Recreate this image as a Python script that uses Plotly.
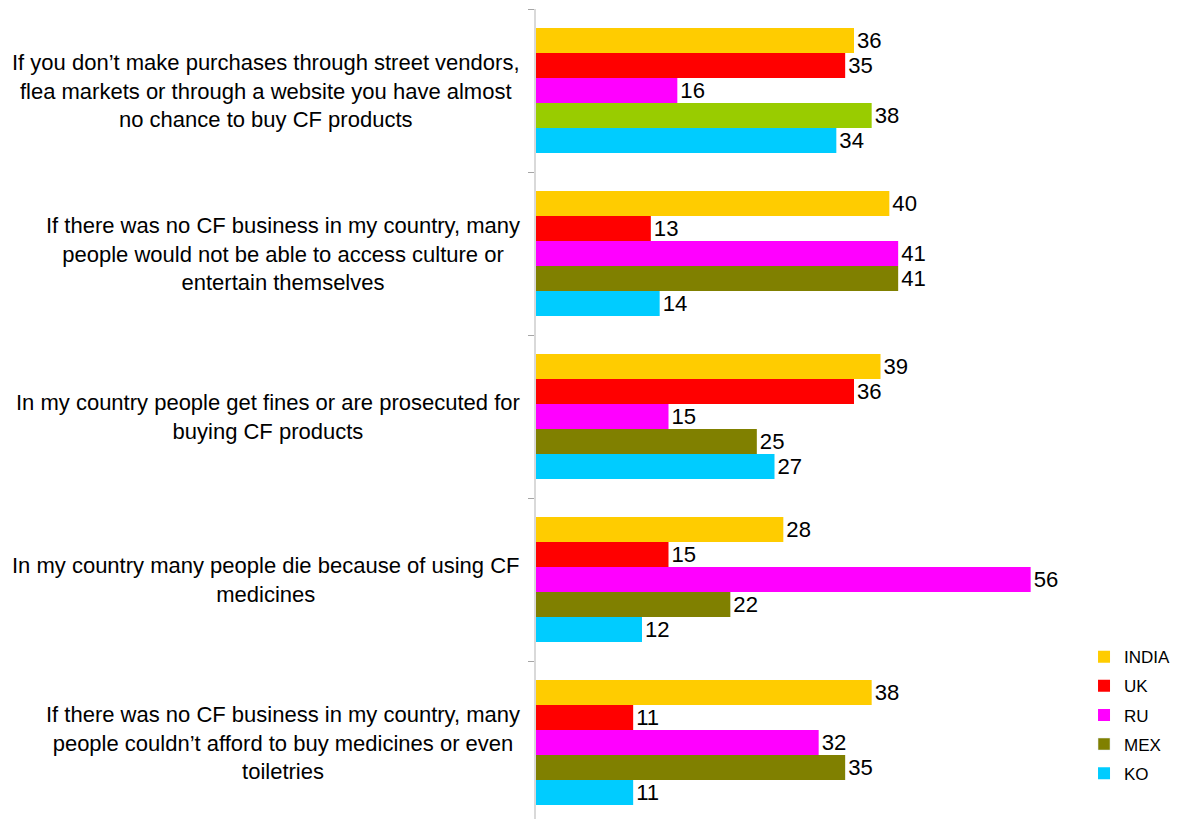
import plotly.graph_objects as go

# Statements (line breaks as printed on the chart)
statements = [
    "If you don’t make purchases through street vendors,<br>flea markets or through a website you have almost<br>no chance to buy CF products",
    "If there was no CF business in my country, many<br>people would not be able to access culture or<br>entertain themselves",
    "In my country people get fines or are prosecuted for<br>buying CF products",
    "In my country many people die because of using CF<br>medicines",
    "If there was no CF business in my country, many<br>people couldn’t afford to buy medicines or even<br>toiletries",
]
cat_ids = ["s1", "s2", "s3", "s4", "s5"]

countries = ["INDIA", "UK", "RU", "MEX", "KO"]
india = [36, 40, 39, 28, 38]
uk = [35, 13, 36, 15, 11]
ru = [16, 41, 15, 56, 32]
mex = [38, 41, 25, 22, 35]
ko = [34, 14, 27, 12, 11]
series = [india, uk, ru, mex, ko]

colors = {"INDIA": "#FFCC00", "UK": "#FF0000", "RU": "#FF00FF", "MEX": "#808000", "KO": "#00CCFF"}
# the first MEX bar is drawn in a lighter green
mex_colors = ["#99CC00", "#808000", "#808000", "#808000", "#808000"]

font_family = "Liberation Sans, Arial, sans-serif"

fig = go.Figure()
for name, vals in zip(countries, series):
    col = mex_colors if name == "MEX" else colors[name]
    fig.add_trace(go.Bar(
        x=vals, y=cat_ids, orientation="h", name=name,
        marker=dict(color=col, line=dict(width=0)),
        text=[str(v) for v in vals], textposition="outside",
        textfont=dict(family=font_family, size=23, color="#000000"),
        cliponaxis=False, offsetgroup=name, legendgroup=name,
        showlegend=(name != "MEX"), hoverinfo="x+name",
    ))
    if name == "MEX":
        # legend entry in the series' main colour
        fig.add_trace(go.Bar(
            x=[None], y=[cat_ids[0]], orientation="h", name=name,
            marker=dict(color=colors[name]), offsetgroup=name,
            legendgroup=name, showlegend=True, hoverinfo="skip",
        ))

for cid, label in zip(cat_ids, statements):
    fig.add_annotation(
        x=0, xref="paper", y=cid, yref="y", text=label, showarrow=False,
        xanchor="right", yanchor="middle", xshift=-14, align="center",
        font=dict(family=font_family, size=22, color="#000000"),
    )

fig.update_layout(
    width=1181, height=819,
    margin=dict(l=536, r=115, t=9, b=0),
    paper_bgcolor="white", plot_bgcolor="white",
    barmode="group", bargap=0.233, bargroupgap=0,
    font=dict(family=font_family, size=17, color="#000000"),
    showlegend=True,
    legend=dict(
        x=1.034, y=0.222, xanchor="left", yanchor="top",
        font=dict(family=font_family, size=17, color="#000000"),
        tracegroupgap=4, itemwidth=30, bgcolor="rgba(0,0,0,0)",
    ),
)
fig.update_xaxes(range=[0, 60], visible=False, showgrid=False, zeroline=False)
fig.update_yaxes(
    type="category", categoryorder="array", categoryarray=cat_ids,
    range=[4.469, -0.5], showticklabels=False, showgrid=False, zeroline=False,
    showline=True, linecolor="#D9D9D9", linewidth=2,
    ticks="outside", tickson="boundaries", ticklen=6, tickcolor="#A6A6A6", tickwidth=1,
)

fig.write_html("out.html")
